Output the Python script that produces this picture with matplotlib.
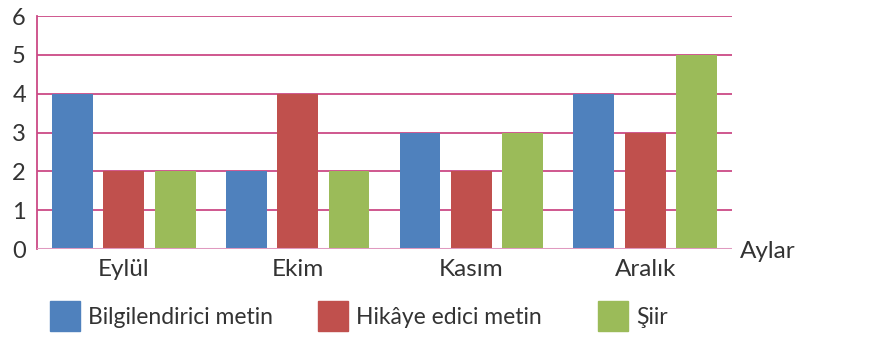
import matplotlib
matplotlib.use("Agg")
import matplotlib.pyplot as plt
from matplotlib.patches import Rectangle
import numpy as np

months = ["Eylül", "Ekim", "Kasım", "Aralık"]
series_names = ["Bilgilendirici metin", "Hikâye edici metin", "Şiir"]
bilgilendirici = [4, 2, 3, 4]
hikaye = [2, 4, 2, 3]
siir = [2, 2, 3, 5]
yticks = [0, 1, 2, 3, 4, 5, 6]

colors = ["#4f81bd", "#c0504d", "#9bbb59"]
grid_color = "#cc4a86"
text_color = "#333333"

plt.rcParams['font.family'] = ['Lato', 'DejaVu Sans']

W, H = 889, 339
fig = plt.figure(figsize=(W/100, H/100), dpi=100)
ax = fig.add_axes([37/W, 1-249/H, (732-37)/W, (249-16)/H])

x = np.arange(len(months))
width = 0.235
offset = 0.296
for i, (vals, c, name) in enumerate(zip([bilgilendirici, hikaye, siir], colors, series_names)):
    ax.bar(x + (i-1)*offset, vals, width=width, color=c, label=name, zorder=3)

ax.set_xlim(-0.5, 3.5)
ax.set_ylim(0, 6)
ax.set_yticks(yticks)
ax.set_yticklabels([str(v) for v in yticks], fontsize=17, color=text_color)
ax.set_xticks(x)
ax.set_xticklabels(months, fontsize=17.5, color=text_color)
ax.tick_params(axis='both', length=0)
ax.tick_params(axis='y', pad=8)
ax.tick_params(axis='x', pad=7)

for v in yticks[1:]:
    ax.axhline(v, color=grid_color, lw=1.3, zorder=1)
ax.axhline(0, color="#e09ac0", lw=2.2, zorder=4)

for s in ["top", "right", "bottom"]:
    ax.spines[s].set_visible(False)
ax.spines["left"].set_color(grid_color)
ax.spines["left"].set_linewidth(1.3)

fig.text(740/W, 1-251/H, "Aylar", fontsize=17.5, color=text_color, va="center", ha="left")

# legend
sq_x = [50, 318, 598]
for sx, c, name in zip(sq_x, colors, series_names):
    fig.patches.append(Rectangle((sx/W, 1-331/H), 30/W, 30/H, transform=fig.transFigure,
                                 color=c, figure=fig))
    fig.text((sx+38)/W, 1-317/H, name, fontsize=16.5, color=text_color, va="center", ha="left")

fig.savefig("out.png", dpi=100)
